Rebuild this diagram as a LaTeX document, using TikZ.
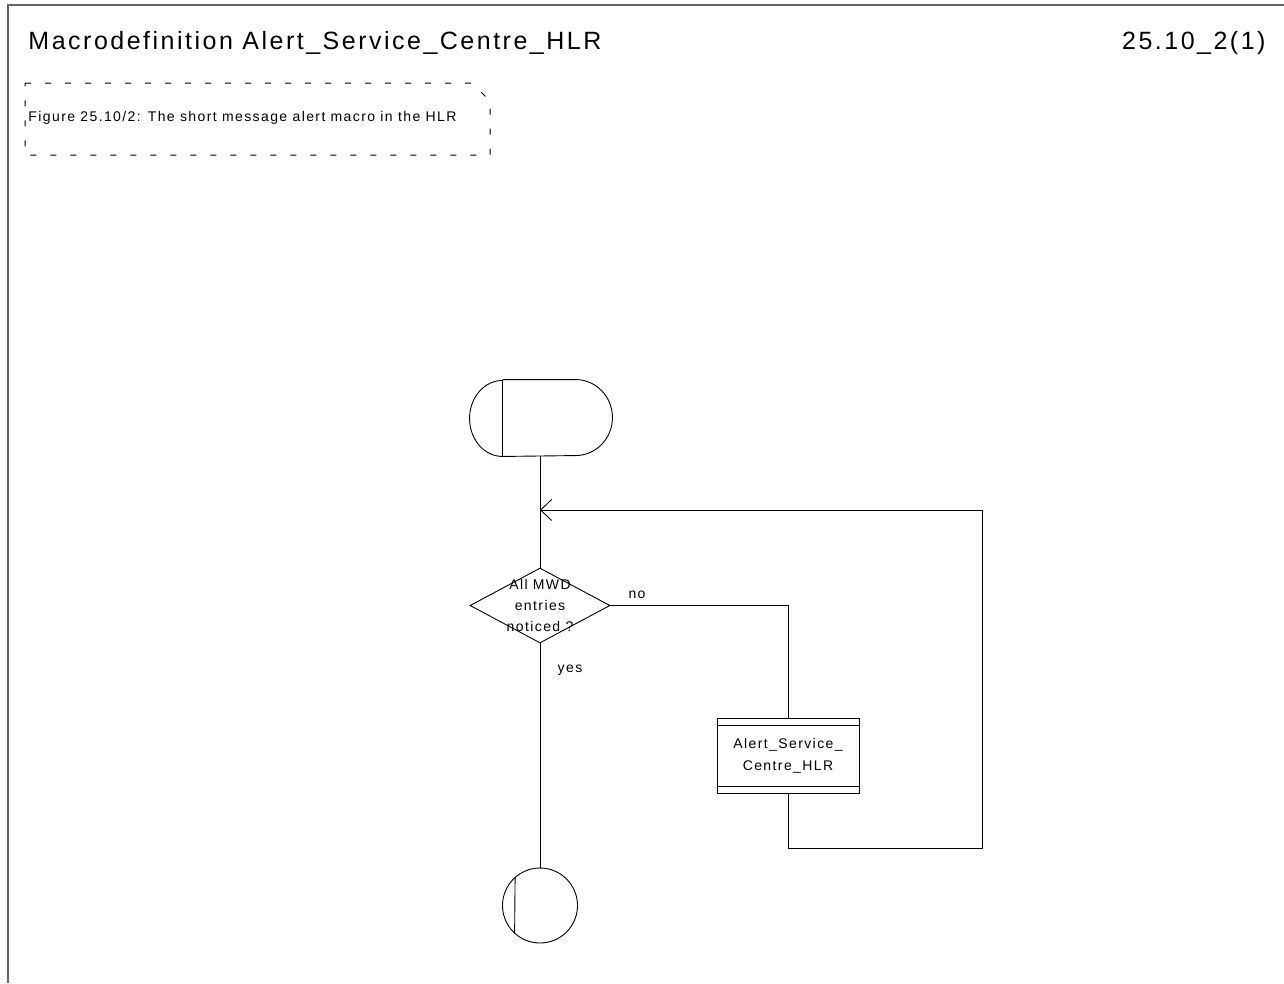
\documentclass[tikz,border=0pt]{standalone}
\usepackage{fontspec}
\usetikzlibrary{shapes.geometric, arrows.meta, positioning, calc}
\newfontfamily\sdlfont[LetterSpace=10]{Liberation Sans}

\begin{document}
\begin{tikzpicture}[
        x=1pt, y=1pt,
        line width=0.9pt,
        titletext/.style={font=\sdlfont\fontsize{25}{30}\selectfont, inner sep=0pt},
        smalltext/.style={font=\sdlfont\fontsize{14}{21}\selectfont, inner sep=0pt, align=center},
        dashbox/.style={dash pattern=on 6pt off 14pt, line width=1pt},
        startbox/.style={rectangle, minimum width=142pt, minimum height=76pt, inner sep=0pt},
        decisionbox/.style={diamond, draw, minimum width=140pt, minimum height=75pt, inner sep=0pt},
        procbox/.style={rectangle, draw, minimum width=142pt, minimum height=75pt, inner sep=0pt, smalltext},
        endcircle/.style={circle, draw, minimum size=75pt, inner sep=0pt},
        arrow/.style={-{Straight Barb[length=11pt, width=21pt]}}
    ]
    \useasboundingbox (0,0) rectangle (1284,-983);

    % Frame
    \draw[black!60, line width=1.5pt] (1284,-5) -- (8,-5) -- (8,-983);

    % Header
    \node[titletext, anchor=base west] (title) at (28,-49) {Macrodefinition Alert\_Service\_Centre\_HLR};
    \node[titletext, anchor=base east] (page) at (1266,-49) {25.10\_2(1)};

    % Comment
    \node[smalltext, anchor=west] (caption) at (28,-118) {Figure 25.10/2: The short message alert macro in the HLR};
    \draw[dashbox] (25,-83) -- (472,-83) -- (490,-101) -- (490,-155) -- (25,-155) -- cycle;

    % Symbols
    \node[startbox] (start) at (541,-418) {};
    \draw ([xshift=33pt]start.north west) -- ([xshift=-37pt]start.north east)
        arc[start angle=90, end angle=-90, x radius=37, y radius=38]
        -- ([xshift=33pt]start.south west)
        arc[start angle=270, end angle=90, x radius=33, y radius=38];
    \draw ([xshift=33pt]start.north west) -- ([xshift=33pt]start.south west);

    \node[decisionbox, label={[smalltext]center:{All MWD\\entries\\noticed ?}}] (decision) at (540,-605.5) {};
    \node[procbox] (proc) at (788,-755.5) {Alert\_Service\_\\[1pt]Centre\_HLR};
    \draw ([yshift=-8pt]proc.north west) -- ([yshift=-8pt]proc.north east);
    \draw ([yshift=7pt]proc.south west) -- ([yshift=7pt]proc.south east);
    \node[endcircle] (stop) at (540,-905.5) {};
    \draw (stop.131.8) -- (stop.228.2);

    \coordinate (merge) at (540,-510);
    \coordinate (loopr) at (982,-848);

    % Connectors
    \draw (start.south -| decision.north) -- (decision.north);
    \draw (decision.east) -| (proc.north);
    \draw (decision.south) -- (stop.north);
    \draw[arrow] (proc.south) |- (loopr) |- (merge);

    % Labels
    \node[smalltext] (nolabel) at (637,-595) {no};
    \node[smalltext] (yeslabel) at (570,-670) {yes};

\end{tikzpicture}
\end{document}
